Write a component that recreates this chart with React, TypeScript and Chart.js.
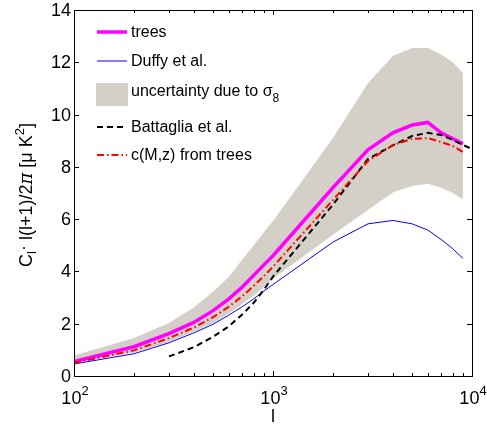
import { useEffect, useRef } from "react";
import { Chart, registerables } from "chart.js";

Chart.register(...registerables);

// multipole moments sampled by the halo-model curves
const ells = [100, 200, 300, 400, 500, 600, 700, 800, 900, 1000, 2000, 3000, 4000, 5000, 6000, 7000, 8000, 9000];
const treesCl = [0.55, 1.12, 1.62, 2.05, 2.5, 2.95, 3.4, 3.85, 4.25, 4.6, 7.2, 8.65, 9.3, 9.6, 9.7, 9.3, 9.08, 8.88];
const duffyCl = [0.46, 0.85, 1.27, 1.65, 1.98, 2.33, 2.65, 2.95, 3.25, 3.5, 5.12, 5.82, 5.95, 5.82, 5.58, 5.22, 4.87, 4.5];
const cmzCl = [0.5, 0.98, 1.45, 1.85, 2.25, 2.65, 3.05, 3.45, 3.82, 4.18, 6.73, 8.22, 8.83, 9.07, 9.1, 8.95, 8.8, 8.57];
const sigma8Low = [0.5, 0.9, 1.3, 1.7, 2.02, 2.4, 2.75, 3.08, 3.4, 3.72, 5.4, 6.35, 7.02, 7.27, 7.35, 7.2, 7.0, 6.77];
const sigma8High = [0.78, 1.45, 2.03, 2.62, 3.22, 3.8, 4.45, 5.0, 5.5, 5.93, 9.1, 11.2, 12.24, 12.55, 12.55, 12.3, 12.0, 11.6];
const battagliaEll = [300, 400, 500, 600, 700, 800, 900, 1000, 2000, 3000, 4000, 5000, 6000, 7000, 8000, 9000, 10000];
const battagliaCl = [0.75, 1.1, 1.5, 1.9, 2.35, 2.8, 3.3, 3.8, 6.55, 8.3, 8.82, 9.18, 9.3, 9.22, 9.03, 8.84, 8.68];

const yTicks = [0, 2, 4, 6, 8, 10, 12, 14];
const xDecades = [2, 3, 4];
const xMinorMultiples = [2, 3, 4, 5, 6, 7, 8, 9];

const legendLabels = ["trees", "Duffy et al.", "uncertainty due to ", "Battaglia et al.", "c(M,z) from trees"];

const MAGENTA = "#ff00ff";
const BLUE = "#0000ff";
const RED = "#ff0000";
const BAND = "rgb(212,208,200)";
const FONT = "'Liberation Sans', Arial, Helvetica, sans-serif";

const pts = (xs: number[], ys: number[]) => xs.map((x, i) => ({ x, y: ys[i] }));

type Piece = { t: string; font: string; dy: number };

function drawPieces(ctx: CanvasRenderingContext2D, pieces: Piece[], x0: number, y0: number) {
  let x = x0;
  for (const p of pieces) {
    ctx.font = p.font;
    ctx.fillText(p.t, x, y0 + p.dy);
    x += ctx.measureText(p.t).width;
  }
  return x;
}

function piecesWidth(ctx: CanvasRenderingContext2D, pieces: Piece[]) {
  let w = 0;
  for (const p of pieces) {
    ctx.font = p.font;
    w += ctx.measureText(p.t).width;
  }
  return w;
}

const framePlugin = {
  id: "matlabFrame",
  afterDatasetsDraw(chart: any) {
    const ctx: CanvasRenderingContext2D = chart.ctx;
    const { left, right, top, bottom } = chart.chartArea;
    const xs = chart.scales.x;
    const ys = chart.scales.y;
    ctx.save();

    // axes box
    ctx.strokeStyle = "#000";
    ctx.lineWidth = 1;
    ctx.strokeRect(Math.round(left) + 0.5, Math.round(top) + 0.5, Math.round(right - left), Math.round(bottom - top));

    // inward ticks
    const tick = (x1: number, y1: number, x2: number, y2: number) => {
      ctx.beginPath();
      ctx.moveTo(x1, y1);
      ctx.lineTo(x2, y2);
      ctx.stroke();
    };
    for (const v of yTicks) {
      const y = Math.round(ys.getPixelForValue(v)) + 0.5;
      tick(left, y, left + 5, y);
      tick(right, y, right - 5, y);
    }
    for (const e of xDecades) {
      const x = Math.round(xs.getPixelForValue(Math.pow(10, e))) + 0.5;
      tick(x, bottom, x, bottom - 5);
      tick(x, top, x, top + 5);
      if (e < xDecades[xDecades.length - 1]) {
        for (const m of xMinorMultiples) {
          const xm = Math.round(xs.getPixelForValue(m * Math.pow(10, e))) + 0.5;
          tick(xm, bottom, xm, bottom - 3);
          tick(xm, top, xm, top + 3);
        }
      }
    }

    ctx.fillStyle = "#000";
    // y tick labels
    ctx.font = `18px ${FONT}`;
    ctx.textAlign = "right";
    ctx.textBaseline = "middle";
    for (const v of yTicks) {
      ctx.fillText(String(v), left - 3, ys.getPixelForValue(v) + 1);
    }

    // x tick labels 10^e
    ctx.textAlign = "left";
    ctx.textBaseline = "alphabetic";
    for (const e of xDecades) {
      const x = xs.getPixelForValue(Math.pow(10, e));
      const pieces: Piece[] = [
        { t: "10", font: `18px ${FONT}`, dy: 0 },
        { t: String(e), font: `13px ${FONT}`, dy: -9 },
      ];
      const w = piecesWidth(ctx, pieces);
      drawPieces(ctx, pieces, x - w / 2 + 1, bottom + 28);
    }

    // x axis title
    ctx.font = `18px ${FONT}`;
    ctx.textAlign = "center";
    ctx.fillText("l", (left + right) / 2, bottom + 46);

    // y axis title (rotated)
    ctx.textAlign = "left";
    const yTitle: Piece[] = [
      { t: "C", font: `18px ${FONT}`, dy: 0 },
      { t: "l", font: `13px ${FONT}`, dy: 4 },
      { t: "\u00b7", font: `18px ${FONT}`, dy: -3 },
      { t: " l(l+1)/2", font: `18px ${FONT}`, dy: 0 },
      { t: "\u03c0", font: `italic 18px 'DejaVu Serif', serif`, dy: 0 },
      { t: " [\u03bc K", font: `18px ${FONT}`, dy: 0 },
      { t: "2", font: `13px ${FONT}`, dy: -8 },
      { t: "]", font: `18px ${FONT}`, dy: 0 },
    ];
    const tw = piecesWidth(ctx, yTitle);
    ctx.save();
    ctx.translate(32, (top + bottom) / 2 + 2);
    ctx.rotate(-Math.PI / 2);
    drawPieces(ctx, yTitle, -tw / 2, 0);
    ctx.restore();

    // legend
    const lx0 = left + 23;
    const lx1 = left + 53;
    const tx = left + 57;
    const rows = [top + 22, top + 51, top + 84, top + 117, top + 145];
    ctx.textBaseline = "middle";
    ctx.font = `16px ${FONT}`;

    const sample = (y: number, color: string, width: number, dash: number[]) => {
      ctx.save();
      ctx.strokeStyle = color;
      ctx.lineWidth = width;
      ctx.setLineDash(dash);
      ctx.beginPath();
      ctx.moveTo(lx0, y);
      ctx.lineTo(lx1, y);
      ctx.stroke();
      ctx.restore();
    };
    sample(rows[0], MAGENTA, 3.5, []);
    ctx.fillText(legendLabels[0], tx, rows[0] + 1);
    sample(rows[1], BLUE, 1, []);
    ctx.fillText(legendLabels[1], tx, rows[1] + 1);
    ctx.fillStyle = BAND;
    ctx.fillRect(lx0 - 1, rows[2] - 11, lx1 - lx0 + 2, 23);
    ctx.fillStyle = "#000";
    ctx.font = `16px ${FONT}`;
    ctx.fillText(legendLabels[2], tx, rows[2] - 2);
    let sx = tx + ctx.measureText(legendLabels[2]).width;
    ctx.fillText("\u03c3", sx, rows[2] - 2);
    sx += ctx.measureText("\u03c3").width;
    ctx.font = `12px ${FONT}`;
    ctx.fillText("8", sx, rows[2] + 5);
    ctx.font = `16px ${FONT}`;
    sample(rows[3], "#000", 2, [6, 4]);
    ctx.fillText(legendLabels[3], tx, rows[3] + 1);
    sample(rows[4], RED, 2, [7, 3, 1.5, 3]);
    ctx.fillText(legendLabels[4], tx, rows[4] + 1);

    ctx.restore();
  },
};

export default function App() {
  const canvasRef = useRef<HTMLCanvasElement | null>(null);

  useEffect(() => {
    const canvas = canvasRef.current;
    if (!canvas) return;
    const chart = new Chart(canvas, {
      type: "line",
      data: {
        datasets: [
          {
            label: "sigma8 low",
            data: pts(ells, sigma8Low),
            borderWidth: 0,
            borderColor: "rgba(0,0,0,0)",
            pointRadius: 0,
            fill: false,
            order: 10,
          },
          {
            label: "sigma8 high",
            data: pts(ells, sigma8High),
            borderWidth: 0,
            borderColor: "rgba(0,0,0,0)",
            backgroundColor: BAND,
            pointRadius: 0,
            fill: "-1",
            order: 9,
          },
          {
            label: "trees",
            data: pts(ells, treesCl),
            borderColor: MAGENTA,
            borderWidth: 3.5,
            pointRadius: 0,
            fill: false,
            order: 4,
          },
          {
            label: "Duffy et al.",
            data: pts(ells, duffyCl),
            borderColor: BLUE,
            borderWidth: 1,
            pointRadius: 0,
            fill: false,
            order: 3,
          },
          {
            label: "Battaglia et al.",
            data: pts(battagliaEll, battagliaCl),
            borderColor: "#000",
            borderWidth: 2,
            borderDash: [6, 4],
            pointRadius: 0,
            fill: false,
            order: 2,
          },
          {
            label: "c(M,z) from trees",
            data: pts(ells, cmzCl),
            borderColor: RED,
            borderWidth: 2,
            borderDash: [7, 3, 1.5, 3],
            pointRadius: 0,
            fill: false,
            order: 1,
          },
        ],
      },
      options: {
        animation: false,
        responsive: false,
        maintainAspectRatio: false,
        layout: { padding: { left: 74, right: 15, top: 10, bottom: 49 } },
        elements: { line: { tension: 0 } },
        plugins: { legend: { display: false }, tooltip: { enabled: false } },
        scales: {
          x: { type: "logarithmic", min: 100, max: 10000, display: false },
          y: { type: "linear", min: 0, max: 14, display: false },
        },
      },
      plugins: [framePlugin],
    });
    return () => chart.destroy();
  }, []);

  return (
    <div style={{ position: "absolute", left: 0, top: 0, width: 487, height: 425, background: "#fff" }}>
      <canvas ref={canvasRef} width={487} height={425} style={{ display: "block" }} />
    </div>
  );
}
